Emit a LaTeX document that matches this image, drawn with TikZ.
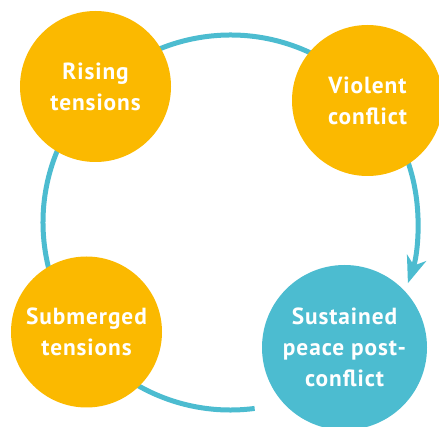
\documentclass[tikz,border=0pt]{standalone}
\usepackage{fontspec}
\setmainfont{PT Sans}[LetterSpace=4]
\usetikzlibrary{arrows.meta}
\definecolor{amber}{HTML}{FBB900}
\definecolor{sea}{HTML}{4CBCD0}
\tikzset{
	stage/.style={circle, fill=amber, minimum size=113.25pt, inner sep=0pt, text=white, align=center, font=\fontsize{17.5}{23.25}\selectfont\bfseries},
	loopline/.style={draw=sea, line width=3.75pt, -{Stealth[length=20pt, width=15pt, inset=6pt]}}
}

\begin{document}
\begin{tikzpicture}[x=0.75pt,y=0.75pt,yscale=-1,xscale=1]
	\clip (0,0) rectangle (439,427);
	\coordinate (hub) at (230.5,222.5);
	% the cycle
	\draw [loopline] (hub) ++(82.6:187.5) arc [start angle=82.6, end angle=378.9, radius=187.5];
	% stages
	\node [stage] (rising) at (95.5,86.5) {Rising\\tensions};
	\node [stage] (violent) at (367.5,100.5) {Violent\\conflict};
	\node [stage] (submerged) at (86.5,332) {Submerged\\tensions};
	\node [stage, fill=sea, minimum size=123.75pt] (peace) at (344.5,347.5) {Sustained\\peace post-\\conflict};
\end{tikzpicture}
\end{document}
